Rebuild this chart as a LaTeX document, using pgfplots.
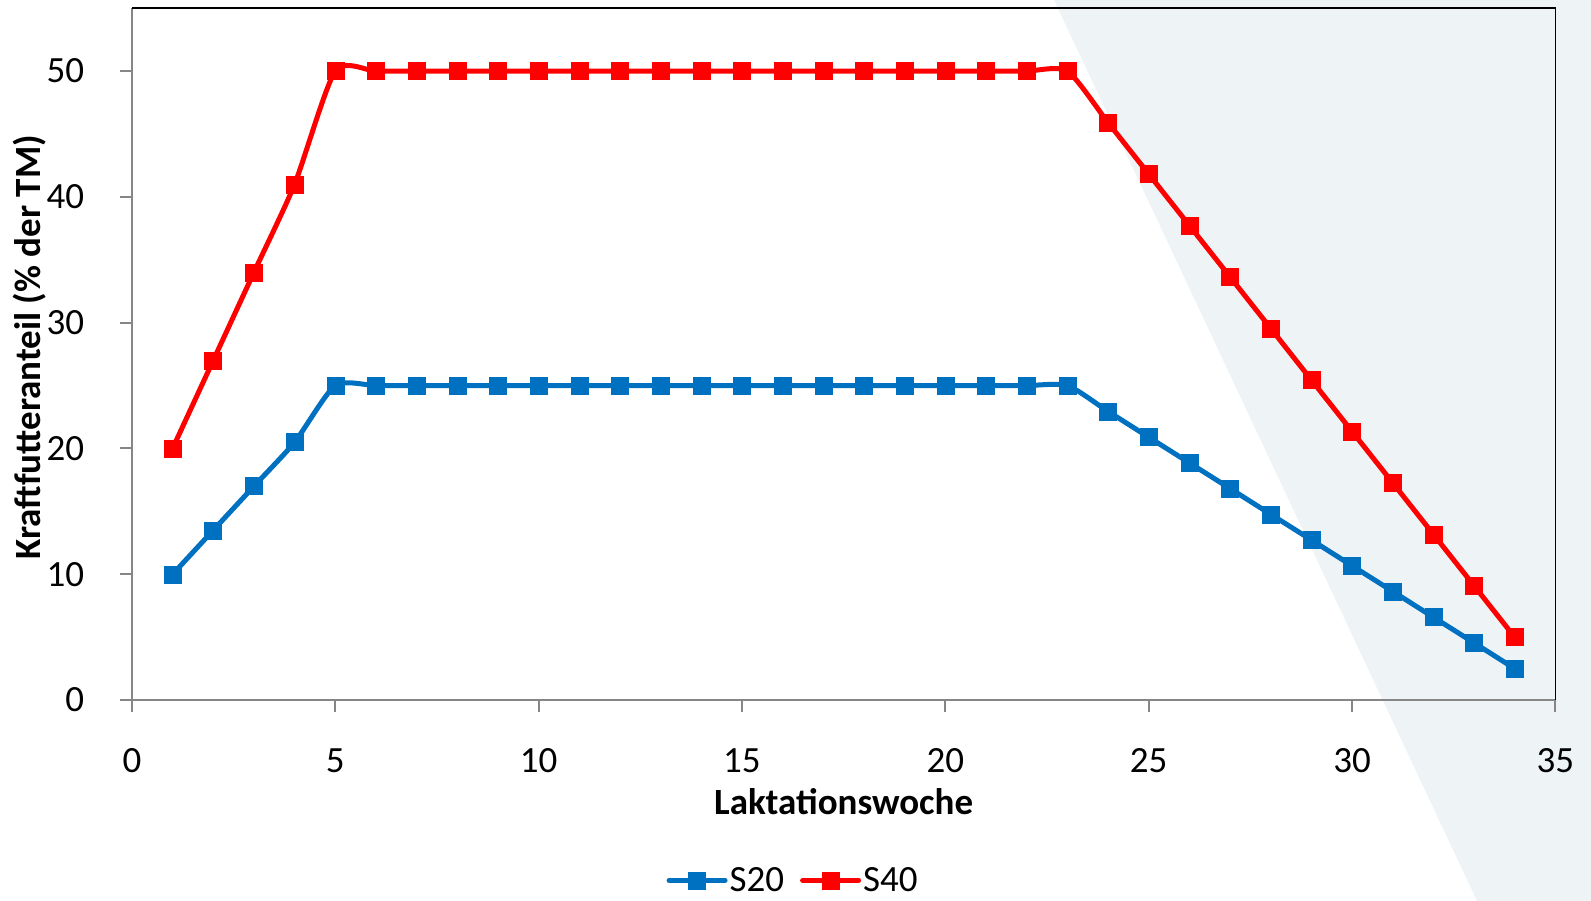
\documentclass[border=0pt]{standalone}
\usepackage{fontspec}
\setmainfont{Carlito}
\usepackage{pgfplots}
\pgfplotsset{compat=1.18}
\definecolor{sblue}{HTML}{0070C0}
\definecolor{sred}{HTML}{FF0000}
\definecolor{bgshade}{HTML}{EEF3F6}
\definecolor{axgray}{HTML}{868686}

\begin{document}
\begin{tikzpicture}[x=1pt,y=1pt]
\useasboundingbox (0,0) rectangle (1591,901);
% decorative shaded band in the lower right
\fill[bgshade] (1054,901) -- (1591,901) -- (1591,0) -- (1477,0) -- cycle;
\begin{axis}[
  at={(131.9pt,200.9pt)}, anchor=south west,
  scale only axis, width=1423.5pt, height=691.9pt,
  xmin=0, xmax=35, ymin=0, ymax=55,
  xtick={0,5,...,35}, ytick={0,10,...,50},
  axis x line*=bottom, axis y line*=left,
  axis line style={axgray, line width=2pt},
  tick align=outside, major tick length=12pt,
  tick style={axgray, line width=2pt},
  /pgf/number format/assume math mode=true,
  tick label style={font=\fontsize{37}{44}\selectfont},
  xticklabel style={anchor=center, yshift=-49pt},
  yticklabel style={anchor=east, inner sep=0pt, xshift=-35.5pt},
  label style={font=\bfseries\fontsize{37}{44}\selectfont},
  xlabel={Laktationswoche},
  ylabel={Kraftfutteranteil (\% der TM)},
  xlabel style={at={(axis description cs:0.5,-0.1467)}, anchor=center},
  ylabel style={at={(axis description cs:-0.0716,0.51)}, anchor=center},
  clip=false,
  legend columns=2,
  legend style={at={(axis description cs:0.4645,-0.2605)}, anchor=center,
    draw=none, fill=none, font=\fontsize{37}{44}\selectfont,
    nodes={inner sep=2pt},
    /tikz/every even column/.append style={column sep=14pt}},
  legend image code/.code={%
    \draw[mark repeat=2, mark phase=2, line cap=round]
      plot coordinates {(0pt,0pt) (28pt,0pt) (56pt,0pt)};},
  every axis plot/.append style={line width=5pt, smooth, tension=0.4,
    mark=square*, mark size=8.5pt, mark options={solid, line width=0.5pt}},
]
\addplot[sblue] coordinates {
  (1,10) (2,13.5) (3,17) (4,20.5) (5,25) (6,25) (7,25) (8,25) (9,25)
  (10,25) (11,25) (12,25) (13,25) (14,25) (15,25) (16,25) (17,25)
  (18,25) (19,25) (20,25) (21,25) (22,25) (23,25) (24,22.95) (25,20.9)
  (26,18.86) (27,16.82) (28,14.77) (29,12.73) (30,10.68) (31,8.64)
  (32,6.59) (33,4.55) (34,2.5)};
\addlegendentry{S20}
\addplot[sred] coordinates {
  (1,20) (2,27) (3,34) (4,41) (5,50) (6,50) (7,50) (8,50) (9,50)
  (10,50) (11,50) (12,50) (13,50) (14,50) (15,50) (16,50) (17,50)
  (18,50) (19,50) (20,50) (21,50) (22,50) (23,50) (24,45.91) (25,41.82)
  (26,37.73) (27,33.64) (28,29.55) (29,25.45) (30,21.36) (31,17.27)
  (32,13.18) (33,9.09) (34,5)};
\addlegendentry{S40}
% frame on the top and right
\draw[black, line width=1.5pt] (rel axis cs:0,1) -- (rel axis cs:1,1) -- (rel axis cs:1,0);
\end{axis}
\end{tikzpicture}
\end{document}
